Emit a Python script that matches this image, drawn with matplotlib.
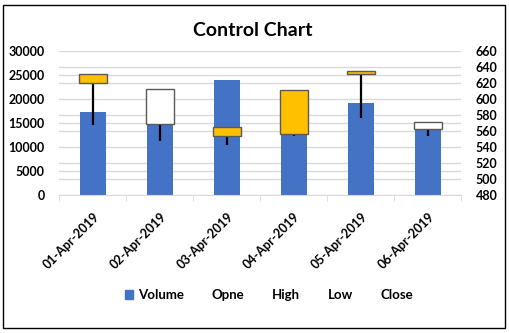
import numpy as np
import matplotlib.pyplot as plt
from matplotlib.patches import Patch, Rectangle
from matplotlib.lines import Line2D

plt.rcParams['font.family'] = ['Lato', 'DejaVu Sans']

dates = ["01-Apr-2019", "02-Apr-2019", "03-Apr-2019", "04-Apr-2019", "05-Apr-2019", "06-Apr-2019"]
volume = [17300, 14700, 23900, 12650, 19100, 13700]
open_ = [630.5, 568.3, 565.4, 610.6, 634.3, 562.1]
high = [630.5, 612.7, 565.4, 610.6, 634.3, 570.8]
low = [567.5, 548.0, 543.0, 554.0, 576.6, 554.0]
close = [619.4, 612.7, 553.4, 555.9, 630.5, 570.8]

blue = "#4472C4"
yellow = "#FFC000"
grid_c = "#D9D9D9"

fig = plt.figure(figsize=(5.09, 3.33), dpi=100)
ax = fig.add_axes([0.1166, 0.4135, 0.7897, 0.4342])
ax2 = ax.twinx()

x = np.arange(len(dates))

# volume bars on left axis
ax.bar(x, volume, width=0.39, color=blue, zorder=2)
ax.set_ylim(0, 30000)
ax.set_yticks(np.arange(0, 30001, 5000))
# price gridlines drawn on the volume axis so they sit behind the bars
price_ticks = np.arange(480, 661, 20)
ax.set_yticks((price_ticks - 480) / 180 * 30000, minor=True)
ax.grid(True, axis='y', which='both', color=grid_c, lw=1, zorder=0)
ax.set_xlim(-0.5, len(dates) - 0.5)

# candles on right axis
ax2.set_ylim(480, 660)
ax2.set_yticks(price_ticks)
for i in range(len(dates)):
    ax2.vlines(x[i], low[i], high[i], color='black', lw=1.6, zorder=3)
    lo = min(open_[i], close[i])
    hi = max(open_[i], close[i])
    fc = yellow if close[i] < open_[i] else 'white'
    ax2.bar(x[i], hi - lo, bottom=lo, width=0.41, color=fc,
            edgecolor='#595959', lw=1, zorder=4)

for a in (ax, ax2):
    for s in a.spines.values():
        s.set_visible(False)
    a.tick_params(axis='y', length=0, labelsize=9, pad=10.5)
    for t in a.get_yticklabels():
        t.set_fontweight('bold')
ax.tick_params(axis='y', which='minor', length=0)
ax.spines['bottom'].set_visible(True)
ax.spines['bottom'].set_color(grid_c)

ax.set_xticks(x)
ax.set_xticklabels(dates, rotation=45, ha='right', rotation_mode='anchor',
                   fontsize=9, fontweight='bold')
ax.tick_params(axis='x', which='major', length=0, pad=11)
ax.set_xticks(np.arange(-0.5, len(dates)), minor=True)
ax.tick_params(axis='x', which='minor', length=4, color=grid_c)

fig.text(0.4975, 0.908, "Control Chart", ha='center', va='center',
         fontsize=14, fontweight='bold')

handles = [Patch(color=blue)] + [Line2D([], [], lw=0) for _ in range(4)]
labels = ["Volume", "Opne", "High", "Low", "Close"]
leg = fig.legend(handles, labels, loc='center', ncol=5,
                 bbox_to_anchor=(269 / 509, 1 - 295 / 333), frameon=False,
                 prop={'size': 9.5, 'weight': 'bold'},
                 handlelength=0.6, handleheight=0.6, handletextpad=0.4,
                 columnspacing=1.1)

fig.add_artist(Rectangle((3 / 509, 1 - 328 / 333), 502 / 509, 323 / 333,
                         transform=fig.transFigure, fill=False,
                         edgecolor='black', lw=1))

fig.savefig("out.png", dpi=100)
